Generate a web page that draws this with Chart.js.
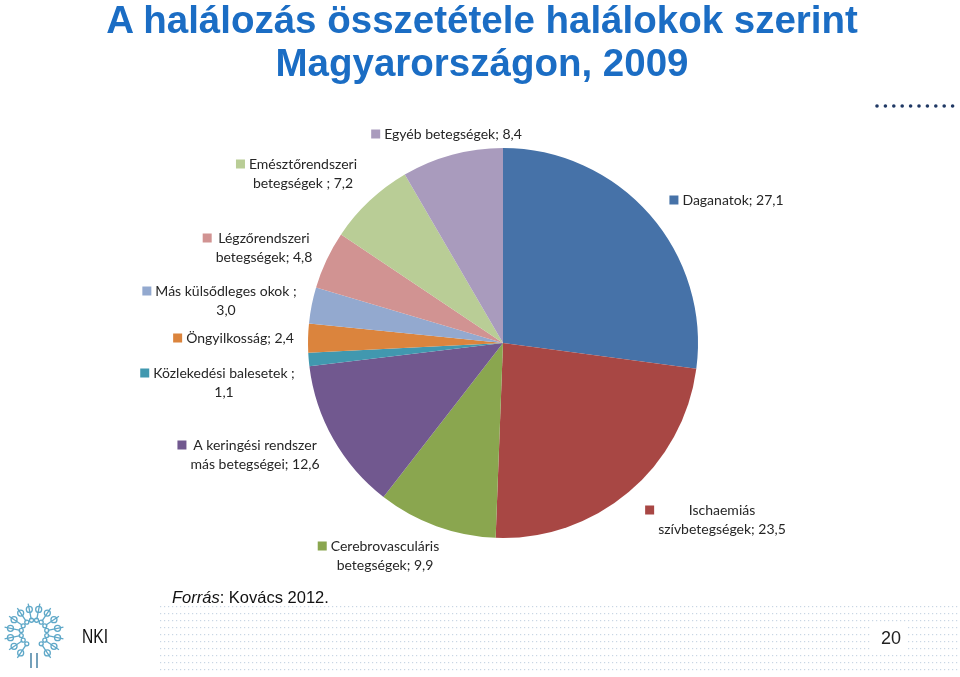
<!DOCTYPE html>
<html>
<head>
<meta charset="utf-8">
<script src="https://cdn.jsdelivr.net/npm/chart.js@4"></script>
<style>
  html, body { margin: 0; padding: 0; background: #fff; }
  #wrap { position: relative; width: 960px; height: 677px; overflow: hidden; }
  #deco { position: absolute; left: 0; top: 0; }
  #chart { position: absolute; left: 0; top: 0; }
  .title { position: absolute; left: 0; width: 964px; text-align: center; font-family: "Liberation Sans", Arial, sans-serif; font-weight: bold; font-size: 38.5px; color: #1B6DC4; white-space: nowrap; line-height: 44px; }
  #src { position: absolute; left: 172px; top: 588px; font-family: "Liberation Sans", Arial, sans-serif; font-size: 16.5px; color: #111; }
  #nki { position: absolute; left: 82px; top: 625px; font-family: "Liberation Sans", Arial, sans-serif; font-size: 20px; color: #111; transform: scaleX(0.78); transform-origin: left top; }
  #page { position: absolute; left: 881px; top: 628px; font-family: "Liberation Sans", Arial, sans-serif; font-size: 18px; color: #222; }
</style>
</head>
<body>
<div id="wrap">
  <canvas id="deco" width="960" height="677"></canvas>
  <div class="title" style="top:-2px;">A halálozás összetétele halálokok szerint</div>
  <div class="title" style="top:41px;">Magyarországon, 2009</div>
  <canvas id="chart" width="960" height="677"></canvas>
  <div id="src"><i>Forrás</i>: Kovács 2012.</div>
  <div id="nki">NKI</div>
  <div id="page">20</div>
</div>
<script>
// ---- data ----
const categories = [
  "Daganatok",
  "Ischaemiás\nszívbetegségek",
  "Cerebrovasculáris\nbetegségek",
  "A keringési rendszer\nmás betegségei",
  "Közlekedési balesetek",
  "Öngyilkosság",
  "Más külsődleges okok",
  "Légzőrendszeri\nbetegségek",
  "Emésztőrendszeri\nbetegségek",
  "Egyéb betegségek"
];
const values = [27.1, 23.5, 9.9, 12.6, 1.1, 2.4, 3.0, 4.8, 7.2, 8.4];
const separators = ["; ", "; ", "; ", "; ", " ;\n", "; ", " ;\n", "; ", " ; ", "; "];

// ---- style ----
const colors = ["#4672A8", "#A84744", "#8AA64F", "#71588F", "#4198AF", "#DB843D", "#93A9CF", "#D19392", "#B9CD96", "#A99BBD"];
// label block placement: text-center x, first line center y
const labelPos = [
  [733, 200], [722, 510], [385, 546], [255, 445], [224, 373],
  [240, 338], [226, 291], [264, 238], [303, 164], [453, 134]
];

function fmt(v) { return v.toFixed(1).replace('.', ','); }

// decoration (not chart data)
(function () {
  const c = document.getElementById('deco').getContext('2d');
  c.fillStyle = '#c9d6e4';
  for (let y = 606; y < 672; y += 7) {
    for (let x = 160; x < 960; x += 4) {
      c.fillRect(x, y, 1.2, 1.2);
    }
  }
  c.clearRect(872, 626, 36, 26);
  c.fillStyle = '#1F3864';
  for (let i = 0; i < 10; i++) {
    c.beginPath(); c.arc(877 + i * 8.4, 106, 1.8, 0, Math.PI * 2); c.fill();
  }
  const cx = 34, cy = 633;
  c.strokeStyle = '#5fa8c8'; c.lineWidth = 1.3;
  for (let i = 0; i < 14; i++) {
    const a = -Math.PI / 2 + (i - 6.5) * (Math.PI * 2 / 16);
    const r1 = 14, r2 = 30;
    c.beginPath();
    c.moveTo(cx + Math.cos(a) * r1, cy + Math.sin(a) * r1);
    c.lineTo(cx + Math.cos(a) * r2, cy + Math.sin(a) * r2);
    c.stroke();
    c.beginPath();
    c.arc(cx + Math.cos(a) * 13, cy + Math.sin(a) * 13, 2, 0, Math.PI * 2);
    c.stroke();
    c.beginPath();
    c.arc(cx + Math.cos(a) * 24, cy + Math.sin(a) * 24, 3, 0, Math.PI * 2);
    c.stroke();
  }
  c.strokeStyle = '#2b6f96';
  c.beginPath(); c.moveTo(cx - 3, cy + 20); c.lineTo(cx - 3, cy + 35); c.moveTo(cx + 3, cy + 20); c.lineTo(cx + 3, cy + 35); c.stroke();
})();

const labelPlugin = {
  id: 'pieLabels',
  afterDraw(chart) {
    const ctx = chart.ctx;
    const data = chart.data.datasets[0].data;
    ctx.save();
    ctx.font = '14px Lato, "Open Sans", sans-serif';
    ctx.textBaseline = 'middle';
    ctx.textAlign = 'center';
    const lh = 19;
    data.forEach((v, i) => {
      const text = chart.data.labels[i] + separators[i] + fmt(v);
      const lines = text.split('\n');
      const [x, y] = labelPos[i];
      let maxW = 0;
      lines.forEach(l => { maxW = Math.max(maxW, ctx.measureText(l).width); });
      ctx.fillStyle = '#262626';
      lines.forEach((l, k) => { ctx.fillText(l, x, y + k * lh); });
      const left = x - maxW / 2;
      ctx.fillStyle = colors[i];
      ctx.fillRect(left - 13, y - 4.5, 9, 9);
    });
    ctx.restore();
  }
};

new Chart(document.getElementById('chart'), {
  type: 'pie',
  data: {
    labels: categories,
    datasets: [{ data: values, backgroundColor: colors, borderWidth: 0, hoverOffset: 0 }]
  },
  options: {
    responsive: false,
    animation: false,
    radius: 195,
    layout: { padding: { left: 146, right: 100, top: 109, bottom: 100 } },
    plugins: { legend: { display: false }, tooltip: { enabled: false } },
    events: []
  },
  plugins: [labelPlugin]
});
</script>
</body>
</html>
